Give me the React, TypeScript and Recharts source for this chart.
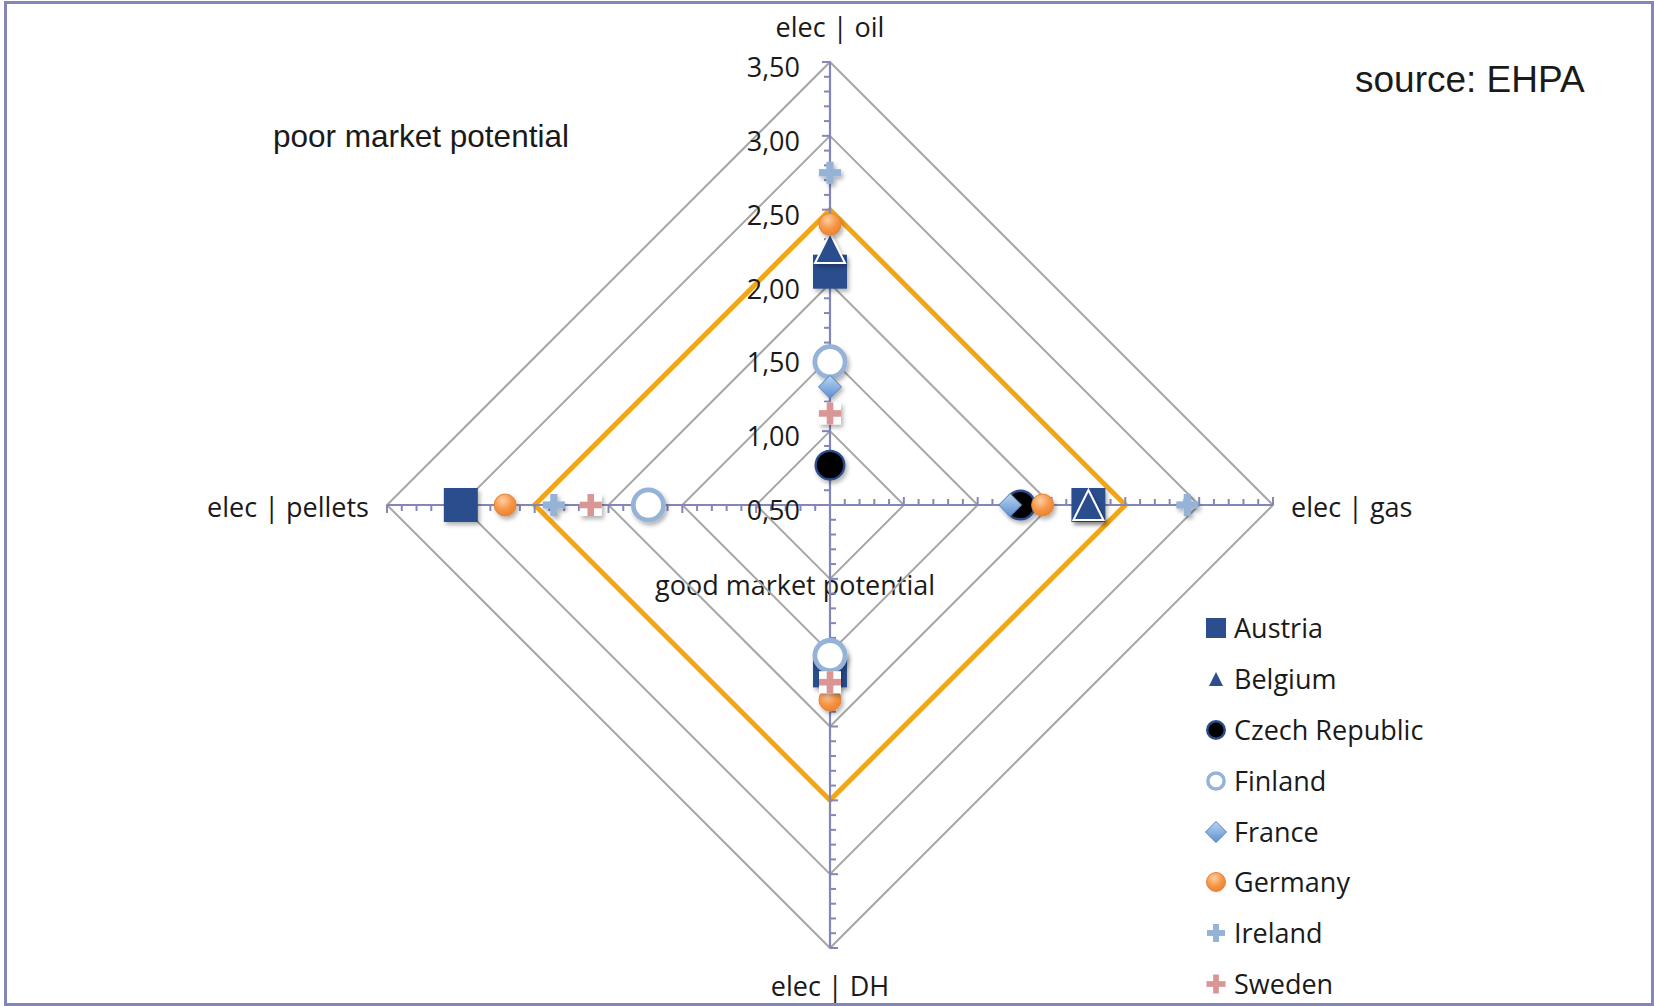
import React from "react";
import { RadarChart, Radar, PolarGrid, PolarAngleAxis, PolarRadiusAxis } from "recharts";

// axes go clockwise from the top
const AXES = ["elec | oil", "elec | gas", "elec | DH", "elec | pellets"];
const RADIUS_TICKS = [0.5, 1.0, 1.5, 2.0, 2.5, 3.0, 3.5];

// values per axis: oil, gas, DH, pellets (null = no marker)
const austria = [2.08, 2.25, 1.62, 3.0];
const belgium = [2.24, 2.25, null, null];
const czech = [0.77, 1.79, null, null];
const finland = [1.47, null, 1.52, 1.73];
const france = [1.3, 1.72, null, null];
const germany = [2.4, 1.94, 1.82, 2.7];
const ireland = [2.75, 2.92, null, 2.37];
const sweden = [1.12, null, 1.7, 2.12];
const threshold = [2.5, 2.5, 2.5, 2.5];

const W = 1654;
const H = 1006;
const CX = 830;
const CY = 505;
const OUTER_R = 443; // pixel radius of the 3,50 ring
const R_MIN = 0.5;
const R_MAX = 3.5;
// recharts rounds the radius domain up to 4, so stretch the radius to keep 3,50 on OUTER_R
const NICE_MAX = 4.0;
const CHART_R = (OUTER_R * (NICE_MAX - R_MIN)) / (R_MAX - R_MIN);

const NAVY = "#2C4D8E";
const AXIS_COLOR = "#8486B8";
const GRID_COLOR = "#A6A6A6";
const FONT = "'Open Sans', 'Noto Sans', sans-serif";
const ARIAL = "'Liberation Sans', Arial, sans-serif";

type Kind = "square" | "triangle" | "dot" | "ring" | "diamond" | "ball" | "plus" | "plusBox";

const SERIES: { key: string; name: string; values: (number | null)[]; kind: Kind; size: number; legendSize: number }[] = [
  { key: "austria", name: "Austria", values: austria, kind: "square", size: 34, legendSize: 20 },
  { key: "belgium", name: "Belgium", values: belgium, kind: "triangle", size: 30, legendSize: 14 },
  { key: "czech", name: "Czech Republic", values: czech, kind: "dot", size: 31, legendSize: 20 },
  { key: "finland", name: "Finland", values: finland, kind: "ring", size: 35, legendSize: 21 },
  { key: "france", name: "France", values: france, kind: "diamond", size: 23, legendSize: 21 },
  { key: "germany", name: "Germany", values: germany, kind: "ball", size: 23, legendSize: 20 },
  { key: "ireland", name: "Ireland", values: ireland, kind: "plus", size: 22, legendSize: 18 },
  { key: "sweden", name: "Sweden", values: sweden, kind: "plusBox", size: 22, legendSize: 19 },
];

const data = AXES.map((axis, i) => {
  const row: Record<string, any> = { axis, threshold: threshold[i] };
  SERIES.forEach((s) => {
    row[s.key] = s.values[i];
  });
  return row;
});

function Marker({ kind, x, y, s, legend }: { kind: Kind; x: number; y: number; s: number; legend?: boolean }) {
  const h = s / 2;
  const filter = legend ? undefined : "url(#mkShadow)";
  switch (kind) {
    case "square":
      return <rect x={x - h} y={y - h} width={s} height={s} fill={NAVY} filter={filter} />;
    case "triangle":
      return (
        <polygon
          points={`${x},${y - h} ${x + h},${y + h} ${x - h},${y + h}`}
          fill={NAVY}
          stroke={legend ? "none" : "#fff"}
          strokeWidth={2}
          filter={filter}
        />
      );
    case "dot":
      return <circle cx={x} cy={y} r={h - 1.2} fill="#000" stroke={NAVY} strokeWidth={2.4} filter={filter} />;
    case "ring":
      return <circle cx={x} cy={y} r={h - 2.4} fill="#fff" stroke="#95B3D7" strokeWidth={legend ? 3.5 : 4.8} filter={filter} />;
    case "diamond":
      return (
        <polygon
          points={`${x},${y - h} ${x + h},${y} ${x},${y + h} ${x - h},${y}`}
          fill="url(#franceGrad)"
          stroke="#4A7EBB"
          strokeWidth={1}
          filter={filter}
        />
      );
    case "ball":
      return <circle cx={x} cy={y} r={h - 0.5} fill="url(#germanyGrad)" stroke="#E3853A" strokeWidth={1} filter={filter} />;
    case "plus": {
      const t = s * 0.33;
      return (
        <g fill="#95B3D7" filter={filter}>
          <rect x={x - h} y={y - t / 2} width={s} height={t} />
          <rect x={x - t / 2} y={y - h} width={t} height={s} />
        </g>
      );
    }
    case "plusBox": {
      const t = s * 0.3;
      return (
        <g filter={filter}>
          {!legend && <rect x={x - h} y={y - h} width={s} height={s} fill="#fff" />}
          <rect x={x - h} y={y - t / 2} width={s} height={t} fill="#D99694" />
          <rect x={x - t / 2} y={y - h} width={t} height={s} fill="#D99694" />
        </g>
      );
    }
  }
  return null;
}

const makeDot = (key: string, kind: Kind, size: number) => (props: any) => {
  const { cx, cy, index } = props;
  const p = props.payload;
  const src = p && key in p ? p : p?.payload;
  const raw = src ? src[key] : props.value;
  if (raw == null || !Number.isFinite(cx) || !Number.isFinite(cy)) return <g key={`${key}-${index}`} />;
  return (
    <g key={`${key}-${index}`}>
      <Marker kind={kind} x={cx} y={cy} s={size} />
    </g>
  );
};

const DIRS = [
  [0, -1],
  [1, 0],
  [0, 1],
  [-1, 0],
];

const RadiusTick = (props: any) => {
  const { y, payload } = props;
  const v = Number(payload.value);
  const r = CY - y;
  const gap = (OUTER_R * 0.5) / (R_MAX - R_MIN);
  const marks: React.ReactNode[] = [];
  DIRS.forEach(([dx, dy], d) => {
    const tx = dy;
    const ty = -dx;
    if (v === R_MIN) {
      marks.push(
        <line key={`ax${d}`} x1={CX} y1={CY} x2={CX + dx * OUTER_R} y2={CY + dy * OUTER_R} stroke={AXIS_COLOR} strokeWidth={2.2} />
      );
    }
    const px = CX + dx * r;
    const py = CY + dy * r;
    marks.push(<line key={`M${d}`} x1={px} y1={py} x2={px + tx * 8} y2={py + ty * 8} stroke={AXIS_COLOR} strokeWidth={2} />);
    if (v < R_MAX) {
      for (let k = 1; k < 5; k++) {
        const rr = r + (k * gap) / 5;
        const mx = CX + dx * rr;
        const my = CY + dy * rr;
        marks.push(
          <line key={`m${d}-${k}`} x1={mx} y1={my} x2={mx + tx * 6} y2={my + ty * 6} stroke={AXIS_COLOR} strokeWidth={2} />
        );
      }
    }
  });
  return (
    <g>
      {marks}
      <text x={CX - 30} y={y + 15} textAnchor="end" fontSize={27} fontFamily={FONT} fill="#1a1a1a">
        {v.toFixed(2).replace(".", ",")}
      </text>
    </g>
  );
};

const AngleTick = (props: any) => {
  const { payload } = props;
  const a = (Number(payload.coordinate) * Math.PI) / 180;
  const dx = Math.round(Math.cos(a));
  const dy = Math.round(-Math.sin(a));
  let x = CX;
  let y = CY;
  let anchor: "start" | "middle" | "end" = "middle";
  if (dy < 0) {
    y = CY - OUTER_R - 25;
  } else if (dy > 0) {
    y = CY + OUTER_R + 48;
  } else {
    x = CX + dx * (OUTER_R + 18);
    y = CY + 12;
    anchor = dx > 0 ? "start" : "end";
  }
  return (
    <text x={x} y={y} textAnchor={anchor} fontSize={27} fontFamily={FONT} fill="#1a1a1a">
      {payload.value}
    </text>
  );
};

export default function App() {
  return (
    <div style={{ position: "relative", width: W, height: H, overflow: "hidden", background: "#fff" }}>
      <style>{`body{margin:0}`}</style>
      <svg width={0} height={0} style={{ position: "absolute" }}>
        <defs>
          <filter id="mkShadow" x="-40%" y="-40%" width="180%" height="180%">
            <feDropShadow dx="2" dy="3" stdDeviation="2" floodColor="#000" floodOpacity="0.3" />
          </filter>
          <radialGradient id="germanyGrad" cx="40%" cy="30%" r="75%">
            <stop offset="0%" stopColor="#FDCFA3" />
            <stop offset="55%" stopColor="#F79646" />
            <stop offset="100%" stopColor="#E7812E" />
          </radialGradient>
          <linearGradient id="franceGrad" x1="0" y1="0" x2="0" y2="1">
            <stop offset="0%" stopColor="#BCD5F1" />
            <stop offset="100%" stopColor="#5C8FD0" />
          </linearGradient>
        </defs>
      </svg>

      {/* free text underneath the chart */}
      <svg width={W} height={H} style={{ position: "absolute", left: 0, top: 0 }}>
        <text x={1355} y={92} fontSize={37} fontFamily={ARIAL} fill="#1a1a1a">
          source: EHPA
        </text>
        <text x={273} y={147} fontSize={31.5} fontFamily={ARIAL} fill="#1a1a1a">
          poor market potential
        </text>
        <text x={655} y={595} fontSize={27} fontFamily={FONT} fill="#1a1a1a">
          good market potential
        </text>
      </svg>

      <div style={{ position: "absolute", left: 0, top: 0 }}>
        <RadarChart width={W} height={H} data={data} cx={CX} cy={CY} outerRadius={CHART_R} margin={{ top: 0, right: 0, bottom: 0, left: 0 }}>
          <PolarGrid gridType="polygon" stroke={GRID_COLOR} strokeWidth={2} radialLines={false} />
          <PolarAngleAxis dataKey="axis" tick={AngleTick} axisLine={false} tickLine={false} />
          <PolarRadiusAxis
            angle={90}
            type="number"
            domain={[R_MIN, R_MAX]}
            allowDataOverflow
            ticks={RADIUS_TICKS as any}
            axisLine={false}
            tick={RadiusTick}
          />
          <Radar
            dataKey="threshold"
            stroke="#F2A516"
            strokeWidth={5}
            fill="none"
            dot={false}
            isAnimationActive={false}
            legendType="none"
          />
          {SERIES.map((s) => (
            <Radar
              key={s.key}
              name={s.name}
              dataKey={s.key}
              stroke="none"
              fill="none"
              dot={makeDot(s.key, s.kind, s.size)}
              isAnimationActive={false}
            />
          ))}
        </RadarChart>
      </div>

      {/* legend */}
      <div style={{ position: "absolute", left: 1196, top: 603 }}>
        {SERIES.map((s) => (
          <div key={s.key} style={{ height: 50.8, display: "flex", alignItems: "center" }}>
            <svg width={38} height={30} style={{ flex: "none" }}>
              <Marker kind={s.kind} x={20} y={15} s={s.legendSize} legend />
            </svg>
            <span style={{ fontFamily: FONT, fontSize: 27, color: "#1a1a1a", lineHeight: "30px" }}>{s.name}</span>
          </div>
        ))}
      </div>

      {/* frame */}
      <div
        style={{
          position: "absolute",
          left: 4,
          top: 1,
          right: 0,
          bottom: 0,
          border: `3px solid ${AXIS_COLOR}`,
          boxSizing: "border-box",
          pointerEvents: "none",
        }}
      />
    </div>
  );
}
